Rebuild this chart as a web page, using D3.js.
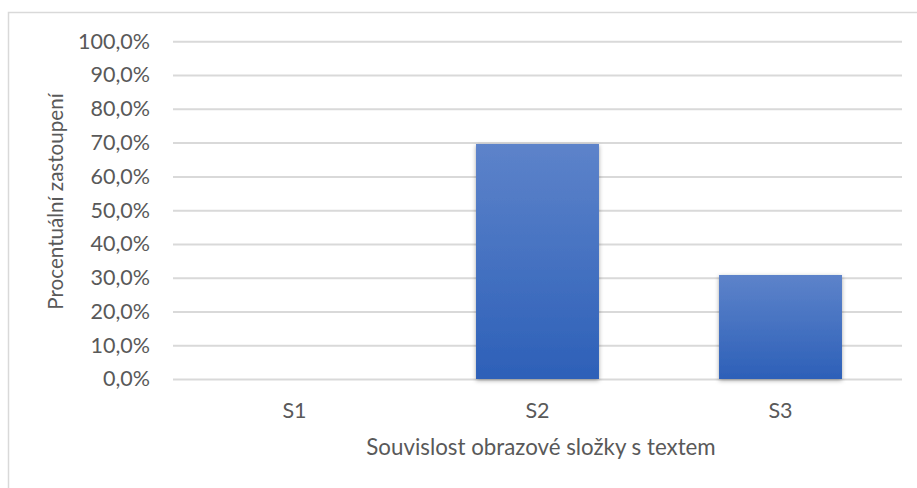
<!DOCTYPE html>
<html><head><meta charset="utf-8">
<script src="https://cdn.jsdelivr.net/npm/d3@7/dist/d3.min.js"></script>
<style>body{margin:0;background:#fff;} svg{display:block;} text{font-family:Lato, "Open Sans", sans-serif;fill:#595959;}</style>
</head><body><svg id="c" width="917" height="488"></svg>
<script>
const categories = ["S1", "S2", "S3"];
const values = [0, 69.6, 30.8];
const yTicks = [0,10,20,30,40,50,60,70,80,90,100];
const xTitle = "Souvislost obrazové složky s textem";
const yTitle = "Procentuální zastoupení";

const svg = d3.select("#c");
const plot = {left: 173, right: 902, top: 41.3, bottom: 379};

svg.append("rect").attr("x", 8.5).attr("y", 12.5).attr("width", 1200).attr("height", 1200)
  .attr("fill", "#fff").attr("stroke", "#d9d9d9").attr("stroke-width", 1.5);

const defs = svg.append("defs");
const grad = defs.append("linearGradient").attr("id", "g").attr("x1", 0).attr("y1", 0).attr("x2", 0).attr("y2", 1);
grad.append("stop").attr("offset", "0%").attr("stop-color", "#5d83ca");
grad.append("stop").attr("offset", "100%").attr("stop-color", "#2d60b8");
const f = defs.append("filter").attr("id", "sh").attr("x", "-20%").attr("y", "-20%").attr("width", "140%").attr("height", "140%");
f.append("feDropShadow").attr("dx", 0).attr("dy", 1.5).attr("stdDeviation", 2.2).attr("flood-color", "#000").attr("flood-opacity", 0.35);

const x = d3.scaleBand().domain(categories).range([plot.left, plot.right]).paddingInner(0.494).paddingOuter(0.247);
const y = d3.scaleLinear().domain([0, 100]).range([plot.bottom, plot.top]);

const fmt = d => d.toFixed(1).replace(".", ",") + "%";

const yAxis = svg.append("g").attr("transform", `translate(${plot.left},0)`)
  .call(d3.axisLeft(y).tickValues(yTicks).tickFormat(fmt).tickSize(-(plot.right - plot.left)).tickPadding(23));
yAxis.select(".domain").remove();
yAxis.selectAll(".tick line").attr("stroke", "#d9d9d9").attr("stroke-width", 2);
yAxis.selectAll(".tick text").attr("font-size", 21.5).style("fill", "#595959").attr("font-family", "Lato, sans-serif");

svg.append("g").selectAll("rect").data(categories).join("rect")
  .attr("x", d => x(d)).attr("width", x.bandwidth())
  .attr("y", (d, i) => y(values[i])).attr("height", (d, i) => y(0) - y(values[i]))
  .attr("fill", "url(#g)").attr("filter", "url(#sh)");

const xAxis = svg.append("g").attr("transform", `translate(0,${plot.bottom})`)
  .call(d3.axisBottom(x).tickSize(0).tickPadding(24));
xAxis.select(".domain").remove();
xAxis.selectAll(".tick text").attr("font-size", 21.5).style("fill", "#595959").attr("font-family", "Lato, sans-serif");

svg.append("text").attr("x", 541).attr("y", 455)
  .attr("text-anchor", "middle").attr("font-size", 22.3).text(xTitle);
svg.append("text").attr("transform", `translate(63,201.5) rotate(-90)`)
  .attr("text-anchor", "middle").attr("font-size", 20.6).text(yTitle);
</script></body></html>
